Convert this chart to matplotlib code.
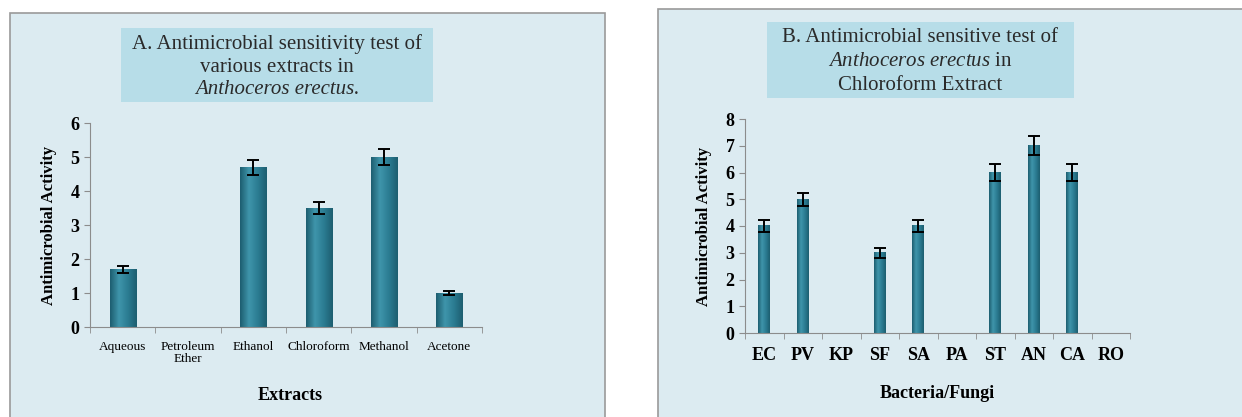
import numpy as np
import matplotlib.pyplot as plt
from matplotlib.patches import Rectangle
from matplotlib.colors import LinearSegmentedColormap

# data
extracts = ["Aqueous", "Petroleum\nEther", "Ethanol", "Chloroform", "Methanol", "Acetone"]
extract_vals = [1.7, 0, 4.7, 3.5, 5.0, 1.0]
extract_err = [0.1, 0, 0.22, 0.18, 0.23, 0.05]

microbes = ["EC", "PV", "KP", "SF", "SA", "PA", "ST", "AN", "CA", "RO"]
microbe_vals = [4, 5, 0, 3, 4, 0, 6, 7, 6, 0]
microbe_err = [0.22, 0.25, 0, 0.18, 0.22, 0, 0.3, 0.35, 0.3, 0]

plt.rcParams["font.family"] = ["Liberation Serif", "DejaVu Serif"]
plt.rcParams["mathtext.fontset"] = "custom"
plt.rcParams["mathtext.rm"] = "Liberation Serif"
plt.rcParams["mathtext.it"] = "Liberation Serif:italic"

W, H = 1242, 417
fig = plt.figure(figsize=(W / 100, H / 100), dpi=100)

panel_bg = "#dcebf1"
title_bg = "#b7dde8"
bar_col = "#2e7f95"
shade = LinearSegmentedColormap.from_list("cyl", ["#1d5e70", "#3f95ab", "#2b7c92", "#1d5e70"])


def px_rect(x0, y0, x1, y1, **kw):
    # rectangle given in pixel coords (y from top)
    r = Rectangle((x0 / W, 1 - y1 / H), (x1 - x0) / W, (y1 - y0) / H,
                  transform=fig.transFigure, zorder=-10, **kw)
    fig.patches.append(r)


def px_text(x, y, s, **kw):
    fig.text(x / W, 1 - y / H, s, **kw)


# panel backgrounds
px_rect(10, 13, 605, 420, facecolor=panel_bg, edgecolor="#9a9a9a", lw=1.2)
px_rect(658, 9, 1250, 420, facecolor=panel_bg, edgecolor="#9a9a9a", lw=1.2)

# title boxes
px_rect(121, 28, 433, 102, facecolor=title_bg, edgecolor="none")
px_rect(767, 22, 1074, 98, facecolor=title_bg, edgecolor="none")

tkw = dict(ha="center", va="center", fontsize=15, color="#2a2a2a")
px_text(277, 44, "A. Antimicrobial sensitivity test of", **tkw)
px_text(277, 67, "various extracts in", **tkw)
px_text(277, 90, "Anthoceros erectus.", style="italic", **tkw)

px_text(920, 38, "B. Antimicrobial sensitive test of", **tkw)
px_text(920, 62, r"$\it{Anthoceros\ erectus}$ in", **tkw)
px_text(920, 85, "Chloroform Extract", **tkw)


def style_axes(ax, n):
    ax.set_facecolor("none")
    for s in ["top", "right"]:
        ax.spines[s].set_visible(False)
    for s in ["left", "bottom"]:
        ax.spines[s].set_color("#8c8c8c")
    ax.set_xlim(-0.5, n - 0.5)
    ax.set_xticks(np.arange(n + 1) - 0.5, minor=True)
    ax.tick_params(axis="x", which="major", length=0, pad=10)
    ax.tick_params(axis="x", which="minor", length=4, color="#8c8c8c", direction="out")
    ax.tick_params(axis="y", length=4, color="#8c8c8c")


def shaded_bars(ax, x, vals, err, width):
    bars = ax.bar(x, vals, width=width, color=bar_col, lw=0)
    grad = np.linspace(0, 1, 64).reshape(1, -1)
    for b in bars:
        if b.get_height() <= 0:
            continue
        x0 = b.get_x()
        ax.imshow(grad, cmap=shade, aspect="auto", zorder=2,
                  extent=(x0, x0 + b.get_width(), 0, b.get_height()))
    idx = [i for i, v in enumerate(vals) if v > 0]
    ax.errorbar([x[i] for i in idx], [vals[i] for i in idx],
                yerr=[err[i] for i in idx], fmt="none", ecolor="black",
                elinewidth=1.4, capsize=4, capthick=1.4, zorder=3)


# panel A
axA = fig.add_axes([90 / W, 1 - 327 / H, 392 / W, 204 / H])
xa = np.arange(len(extracts))
shaded_bars(axA, xa, extract_vals, extract_err, 0.4)
axA.set_ylim(0, 6)
axA.set_yticks(range(0, 7))
axA.set_yticklabels([str(v) for v in range(0, 7)], fontsize=13, fontweight="bold")
axA.set_xticks(xa)
axA.set_xticklabels(extracts, fontsize=9.5, linespacing=1.0)
style_axes(axA, len(extracts))
axA.set_ylabel("Antimicrobial Activity", fontsize=12, fontweight="bold", labelpad=10)
px_text(290, 395, "Extracts", ha="center", va="center", fontsize=13, fontweight="bold")

# panel B
axB = fig.add_axes([745 / W, 1 - 333 / H, 385 / W, 214 / H])
xb = np.arange(len(microbes))
shaded_bars(axB, xb, microbe_vals, microbe_err, 0.3)
axB.set_ylim(0, 8)
axB.set_yticks(range(0, 9))
axB.set_yticklabels([str(v) for v in range(0, 9)], fontsize=13, fontweight="bold")
axB.set_xticks(xb)
axB.set_xticklabels(microbes, fontsize=13, fontweight="bold")
style_axes(axB, len(microbes))
axB.set_ylabel("Antimicrobial Activity", fontsize=12, fontweight="bold", labelpad=10)
px_text(937, 393, "Bacteria/Fungi", ha="center", va="center", fontsize=13, fontweight="bold")

fig.savefig("out.png", dpi=100)
